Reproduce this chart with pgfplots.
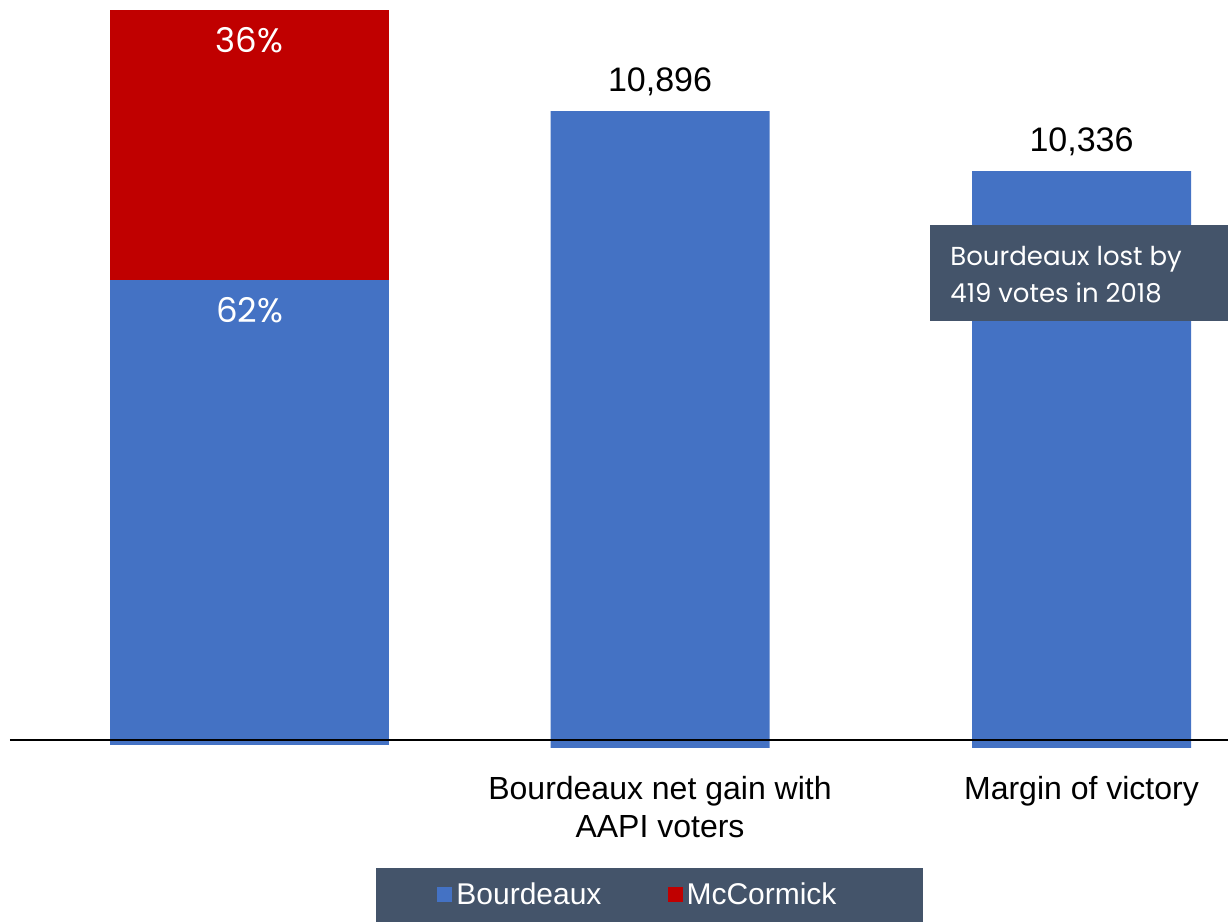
\documentclass[border=0pt]{standalone}
\usepackage{fontspec}
\setmainfont{Liberation Sans}
\newfontfamily\fut{Poppins}
\usepackage{pgfplots}
\pgfplotsset{compat=1.18}
\definecolor{bblue}{HTML}{4472C4}
\definecolor{mred}{HTML}{C00000}
\definecolor{slate}{HTML}{44546A}

\pgfplotsset{frame/.style={at={(5pt,87pt)}, anchor=south west, scale only axis,
  width=609pt, height=374pt, xmin=10, xmax=1228}}

\begin{document}
\begin{tikzpicture}
\useasboundingbox (0,0) rectangle (614pt,461pt);
% first bar: vote shares, on its own scale
\begin{axis}[frame, ymin=-0.4, ymax=99.33,
  ybar stacked, bar width=279, hide axis]
\addplot[fill=bblue, draw=none] coordinates {(249.5,62)};
\addplot[fill=mred, draw=none] coordinates {(249.5,36)};
\end{axis}
% share labels, at the top of each segment
\begin{axis}[frame, ymin=-0.4, ymax=99.33, hide axis,
  point meta=explicit symbolic,
  nodes near coords={\fut\pgfplotspointmeta},
  every node near coord/.append style={anchor=north, text=white,
    font=\fontsize{17}{20}\selectfont, yshift=-5pt}]
\addplot[draw=none, mark=none] coordinates {(249.5,98)[36\%] (249.5,62)[62\%]};
\end{axis}
% net gain and margin, vote counts
\begin{axis}[frame, ymin=4951, ymax=11932,
  ybar, bar width=219, axis on top,
  axis line style={draw=none}, ytick=\empty, major tick length=0pt,
  xtick={660,1081.5},
  xticklabels={{Bourdeaux net gain with\\AAPI voters}, Margin of victory},
  xticklabel style={align=center, font=\fontsize{16}{19}\selectfont, yshift=-10.5pt},
  extra y ticks={5025}, extra y tick labels={},
  extra y tick style={grid=major, major grid style={black, line width=1pt}},
  nodes near coords,
  every node near coord/.append style={font=\fontsize{17}{20}\selectfont, text=black, yshift=4pt},
  /pgf/number format/1000 sep={,},
  /pgf/number format/assume math mode=true,
  legend columns=2,
  legend image code/.code={\fill[#1] (0pt,-3.75pt) rectangle (7.5pt,3.75pt);},
  legend style={at={(0.3005,-0.2326)}, anchor=south west, fill=slate, draw=none,
    text=white, font=\fontsize{15}{18}\selectfont, inner xsep=30.5pt, inner ysep=5.25pt,
    /tikz/every even column/.append style={column sep=31pt}}]
\addplot[fill=bblue, draw=none] coordinates {(660,10896) (1081.5,10336)};
\addlegendentry{Bourdeaux}
\addlegendimage{fill=mred, draw=none}
\addlegendentry{McCormick\hspace*{10.5pt}}
\end{axis}
\fill[slate] (465pt,300.5pt) rectangle (614pt,348.5pt);
\node[anchor=base west, inner sep=0, text=white, font=\fut\fontsize{13}{16}\selectfont] at (475pt,328pt) {Bourdeaux lost by};
\node[anchor=base west, inner sep=0, text=white, font=\fut\fontsize{13}{16}\selectfont] at (475pt,309.5pt) {419 votes in 2018};
\end{tikzpicture}
\end{document}
